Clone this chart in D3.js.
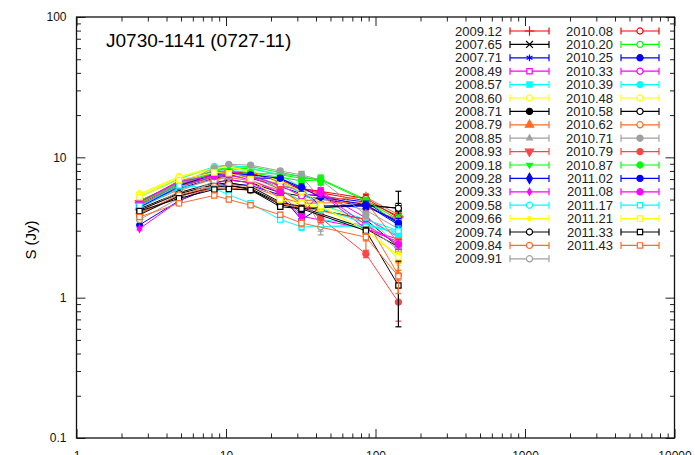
<!DOCTYPE html>
<html>
<head>
<meta charset="utf-8">
<script src="https://cdn.jsdelivr.net/npm/d3@7"></script>
<style>
  body { margin: 0; background: #fff; }
  svg text { font-family: "Liberation Sans", Arial, Helvetica, sans-serif; }
</style>
</head>
<body>
<svg id="chart" width="695" height="455"></svg>
<script>

// observing frequencies (GHz)
var freqs = [2.64, 4.85, 8.35, 10.45, 14.6, 23.05, 32, 43, 86.24, 142.33];

var epochs = [
  "2009.12", "2007.65", "2007.71", "2008.49", "2008.57", "2008.60", "2008.71", "2008.79", "2008.85",
  "2008.93", "2009.18", "2009.28", "2009.33", "2009.58", "2009.66", "2009.74", "2009.84", "2009.91",
  "2010.08", "2010.20", "2010.25", "2010.33", "2010.39", "2010.48", "2010.58", "2010.62", "2010.71",
  "2010.79", "2010.87", "2011.02", "2011.08", "2011.17", "2011.21", "2011.33", "2011.43"
];

var colors = [
  "#ff0000", "#000000", "#0000ff", "#ff00ff", "#00ffff", "#ffff00", "#000000", "#ff6a2a", "#a0a0a0",
  "#ff4545", "#00ff00", "#0000ff", "#ff00ff", "#00ffff", "#ffff00", "#000000", "#ff6a2a", "#a0a0a0",
  "#ff0000", "#00ff00", "#0000ff", "#ff00ff", "#00ffff", "#ffff00", "#000000", "#ff6a2a", "#a0a0a0",
  "#ff4545", "#00ff00", "#0000ff", "#ff00ff", "#00ffff", "#ffff00", "#000000", "#ff6a2a"
];

// marker shape, "o" = open, "f" = filled, "s" = small filled
var shapes = [
  "plus", "times", "asterisk", "square", "square", "circle", "circle", "triangle", "triangle",
  "triangleDown", "triangleDown", "diamond", "diamond", "circle", "circle", "circle", "circle", "circle",
  "circle", "circle", "circle", "circle", "circle", "circle", "circle", "circle", "circle",
  "circle", "circle", "circle", "circle", "square", "square", "square", "square"
];
var fills = [
  "o", "o", "o", "o", "f", "o", "f", "f", "s",
  "f", "s", "f", "s", "o", "s", "o", "o", "o",
  "o", "o", "f", "o", "f", "o", "o", "o", "f",
  "f", "f", "f", "f", "o", "o", "o", "o"
];

// flux density (Jy) per epoch, one value per frequency, null = not observed
var flux = [
  [4.9, 6.5, 7.7, 8.0, 7.7, 6.7, 5.9, null, 4.9, 3.8],
  [4.3, 5.6, 6.6, 6.9, 6.6, 5.6, null, null, 4.5, 4.35],
  [4.6, 6.0, 7.1, 7.4, 7.1, 6.2, 5.5, null, 4.8, 3.4],
  [4.8, 6.4, 7.6, 7.9, 7.6, 6.2, null, 5.7, null, 2.7],
  [4.5, 6.2, 7.9, 8.3, 8.0, 6.7, null, 4.6, 3.6, 3.0],
  [5.5, 7.3, 8.5, 8.6, 8.2, 6.4, 5.2, 4.6, 3.4, 1.85],
  [4.0, 5.3, 6.1, 6.3, 6.0, 4.7, 4.5, null, 3.6, 2.3],
  [4.4, 5.9, 7.0, 7.2, 6.8, 5.8, 4.9, null, 5.2, 3.9],
  [4.1, 5.7, 7.3, 7.7, 7.7, 7.6, 7.3, 5.05, 4.2, 3.1],
  [4.6, 6.1, 7.3, 7.4, 7.2, 6.3, 5.9, 5.4, 4.4, 3.6],
  [4.9, 6.6, 8.0, 8.4, 8.3, 7.5, 7.1, 7.0, 5.0, 3.3],
  [3.3, 4.9, 6.2, 6.5, 6.3, 5.4, 3.6, 4.4, 4.5, 3.5],
  [3.1, 4.9, 6.5, 6.9, 6.6, 5.2, 3.8, null, 3.1, 2.6],
  [4.4, 6.0, 7.7, 8.1, 7.7, 5.9, 4.9, 3.6, 3.3, 2.9],
  [5.3, 7.1, 8.3, 8.5, 8.0, 6.0, 4.5, 4.4, 3.0, 2.0],
  [4.2, 5.5, 6.4, 6.6, 6.2, 4.8, 4.4, null, 3.1, 2.3],
  [4.0, 5.3, 6.0, 6.1, 5.8, 4.7, 4.4, null, 3.6, 1.45],
  [3.6, 5.1, 6.8, 7.3, 7.4, 6.4, 5.7, 3.2, 3.3, 2.2],
  [4.7, 6.3, 7.6, 7.9, 7.7, 6.9, 6.0, null, 5.1, 3.7],
  [4.9, 6.6, 8.1, 8.5, 8.6, 7.8, 7.3, 6.8, null, null],
  [4.4, 6.2, 7.3, 7.5, 7.1, 7.1, 5.9, 4.5, 4.6, 3.3],
  [4.8, 6.8, 7.9, 8.0, 7.4, 6.3, 5.3, 5.5, 3.1, 2.5],
  [5.2, 7.0, 8.6, 8.8, 8.4, 7.5, 6.1, 4.3, 3.4, 2.8],
  [5.4, 7.2, 8.4, 8.6, 7.9, 6.8, 5.7, 4.8, null, null],
  [3.9, 5.3, 6.2, 6.3, 5.9, 4.6, 4.3, null, 4.6, 4.33],
  [4.0, 5.4, 6.2, 6.4, 6.2, 5.2, 4.7, null, 4.8, 2.45],
  [4.5, 6.4, 8.4, 8.9, 8.8, 8.0, 7.5, 6.9, 3.9, 2.3],
  [4.6, 6.2, 7.3, 7.6, 7.3, 5.9, 4.7, 3.7, 2.05, 0.93],
  [4.7, 6.5, 7.8, 8.0, 7.8, 7.2, 6.8, 6.9, 4.9, 3.6],
  [4.5, 6.3, 7.5, 7.7, 7.5, 7.1, 6.1, 5.2, 4.6, 3.4],
  [4.8, 6.7, 7.4, 7.5, 6.9, 5.6, 3.9, 5.6, 3.3, 2.4],
  [4.5, 6.3, 6.0, 5.4, 4.7, 3.6, 3.2, null, 3.2, 3.0],
  [5.2, 6.9, 7.8, 7.7, 7.0, 5.0, 4.7, 4.5, 3.0, 1.95],
  [4.14, 5.1, 5.9, 5.95, 5.85, 4.45, 4.3, null, 3.0, 1.22],
  [3.76, 4.7, 5.35, 5.0, 4.55, 3.9, 3.4, null, 2.7, 1.42]
];

// typical relative error per frequency
var relErr = [0.02, 0.02, 0.025, 0.025, 0.03, 0.04, 0.06, 0.07, 0.06, 0.08];

// the few large error bars (epoch, frequency index, error in Jy)
var bigErrEpoch = ["2009.91", "2008.85", "2009.84", "2010.58", "2011.33", "2010.79", "2011.43", "2009.28"];
var bigErrFreq  = [6, 7, 8, 9, 9, 9, 9, 6];
var bigErrValue = [2.2, 2.25, 1.5, 1.4, 0.6, 0.25, 0.35, 0.25];

var title = "J0730-1141 (0727-11)";

var svg = d3.select("#chart");

var margin = { left: 76.5, right: 20.5, top: 17, bottom: 17 };
var W = 695, H = 455;

var x = d3.scaleLog().domain([1, 10000]).range([margin.left, W - margin.right]);
var y = d3.scaleLog().domain([0.1, 100]).range([H - margin.bottom, margin.top]);

var x0 = x.range()[0], x1 = x.range()[1];
var yb = y.range()[0], yt = y.range()[1];

// minor / major tick positions
var majX = [1, 10, 100, 1000, 10000], minX = [];
[1, 10, 100, 1000].forEach(function (d) { for (var m = 2; m < 10; m++) minX.push(d * m); });
var majY = [0.1, 1, 10, 100], minY = [];
[0.1, 1, 10].forEach(function (d) { for (var m = 2; m < 10; m++) minY.push(+(d * m).toPrecision(3)); });

function tickAxis (axis, tr, vals, size) {
  var g = svg.append("g")
    .attr("transform", tr)
    .call(axis.tickValues(vals).tickSizeInner(-size).tickSizeOuter(0).tickFormat(""));
  g.select(".domain").remove();
  g.selectAll("line").attr("stroke", "#222").attr("stroke-width", 1);
  return g;
}

tickAxis(d3.axisBottom(x), "translate(0," + yb + ")", minX, 4.5);
tickAxis(d3.axisTop(x), "translate(0," + yt + ")", minX, 4.5);
tickAxis(d3.axisBottom(x), "translate(0," + yb + ")", majX, 9);
tickAxis(d3.axisTop(x), "translate(0," + yt + ")", majX, 9);
tickAxis(d3.axisLeft(y), "translate(" + x0 + ",0)", minY, 4.5);
tickAxis(d3.axisRight(y), "translate(" + x1 + ",0)", minY, 4.5);
tickAxis(d3.axisLeft(y), "translate(" + x0 + ",0)", majY, 9);
tickAxis(d3.axisRight(y), "translate(" + x1 + ",0)", majY, 9);

// tick labels (the x labels sit at the very bottom edge, partly cut off as in the original)
var xl = svg.append("g")
  .attr("transform", "translate(0," + yb + ")")
  .call(d3.axisBottom(x).tickValues(majX).tickSize(0).tickPadding(13).tickFormat(function (d) { return String(d); }));
xl.select(".domain").remove();
xl.selectAll("text").attr("font-size", 12).attr("fill", "#111").style("font-family", "Liberation Sans, Arial, sans-serif");

var yl = svg.append("g")
  .attr("transform", "translate(" + x0 + ",0)")
  .call(d3.axisLeft(y).tickValues(majY).tickSize(0).tickPadding(10).tickFormat(function (d) { return String(d); }));
yl.select(".domain").remove();
yl.selectAll("text").attr("font-size", 12).attr("fill", "#111").style("font-family", "Liberation Sans, Arial, sans-serif");

// frame
svg.append("rect")
  .attr("x", x0).attr("y", yt)
  .attr("width", x1 - x0).attr("height", yb - yt)
  .attr("fill", "none").attr("stroke", "#111").attr("stroke-width", 1.3);

svg.append("text")
  .attr("transform", "translate(36,240) rotate(-90)")
  .attr("text-anchor", "middle")
  .attr("font-size", 15)
  .text("S (Jy)");

svg.append("text")
  .attr("x", 106).attr("y", 47)
  .attr("font-size", 19)
  .text(title);

// markers
var symbolTypes = {
  plus: d3.symbolPlus, times: d3.symbolTimes, asterisk: d3.symbolAsterisk,
  square: d3.symbolSquare, circle: d3.symbolCircle, triangle: d3.symbolTriangle,
  triangleDown: d3.symbolTriangle, diamond: d3.symbolDiamond
};
var strokeOnly = { plus: 1, times: 1, asterisk: 1 };

function drawMarker (g, i, cx, cy) {
  var shape = shapes[i], f = fills[i];
  var size = f === "s" ? 14 : (shape === "square" ? 28 : 30);
  if (strokeOnly[shape]) size = 32;
  var p = g.append("path")
    .attr("d", d3.symbol(symbolTypes[shape], size)())
    .attr("transform", "translate(" + cx + "," + cy + ")" + (shape === "triangleDown" ? " rotate(180)" : ""))
    .attr("stroke", colors[i])
    .attr("stroke-width", 1.2);
  if (strokeOnly[shape]) p.attr("fill", "none");
  else if (f === "o") p.attr("fill", "#fff");
  else p.attr("fill", colors[i]);
}

function errorOf (i, k) {
  for (var j = 0; j < bigErrEpoch.length; j++) {
    if (bigErrEpoch[j] === epochs[i] && bigErrFreq[j] === k) return bigErrValue[j];
  }
  return flux[i][k] * relErr[k];
}

var line = d3.line()
  .defined(function (d) { return d.v != null; })
  .x(function (d) { return x(d.f); })
  .y(function (d) { return y(d.v); });

var plot = svg.append("g");

epochs.forEach(function (ep, i) {
  var pts = freqs.map(function (f, k) { return { f: f, v: flux[i][k], k: k }; })
    .filter(function (d) { return d.v != null; });
  var g = plot.append("g").attr("class", "series");
  g.append("path")
    .datum(pts)
    .attr("d", line)
    .attr("fill", "none")
    .attr("stroke", colors[i])
    .attr("stroke-width", 1);
  pts.forEach(function (d) {
    var e = errorOf(i, d.k);
    var cx = x(d.f);
    var lo = y(Math.max(d.v - e, 0.1)), hi = y(d.v + e);
    g.append("line").attr("x1", cx).attr("x2", cx).attr("y1", lo).attr("y2", hi)
      .attr("stroke", colors[i]).attr("stroke-width", 1.2);
    [lo, hi].forEach(function (yy) {
      g.append("line").attr("x1", cx - 3).attr("x2", cx + 3).attr("y1", yy).attr("y2", yy)
        .attr("stroke", colors[i]).attr("stroke-width", 1.2);
    });
    drawMarker(g, i, cx, y(d.v));
  });
});

// legend: two columns
var legend = svg.append("g");
var perCol = 18, rowH = 13.4, firstRow = 31;
epochs.forEach(function (ep, i) {
  var col = i < perCol ? 0 : 1;
  var row = col ? i - perCol : i;
  var ly = firstRow + row * rowH;
  var labelX = col ? 613 : 502;
  var s0 = col ? 621 : 510, s1 = col ? 659 : 549;
  legend.append("text")
    .attr("x", labelX).attr("y", ly + 4.5)
    .attr("text-anchor", "end")
    .attr("font-size", 13)
    .attr("fill", "#222")
    .text(ep);
  legend.append("line").attr("x1", s0).attr("x2", s1).attr("y1", ly).attr("y2", ly)
    .attr("stroke", colors[i]).attr("stroke-width", 1.2);
  [s0, s1].forEach(function (sx) {
    legend.append("line").attr("x1", sx).attr("x2", sx).attr("y1", ly - 3.5).attr("y2", ly + 3.5)
      .attr("stroke", colors[i]).attr("stroke-width", 1.2);
  });
  drawMarker(legend, i, (s0 + s1) / 2, ly);
});

</script>
</body>
</html>
